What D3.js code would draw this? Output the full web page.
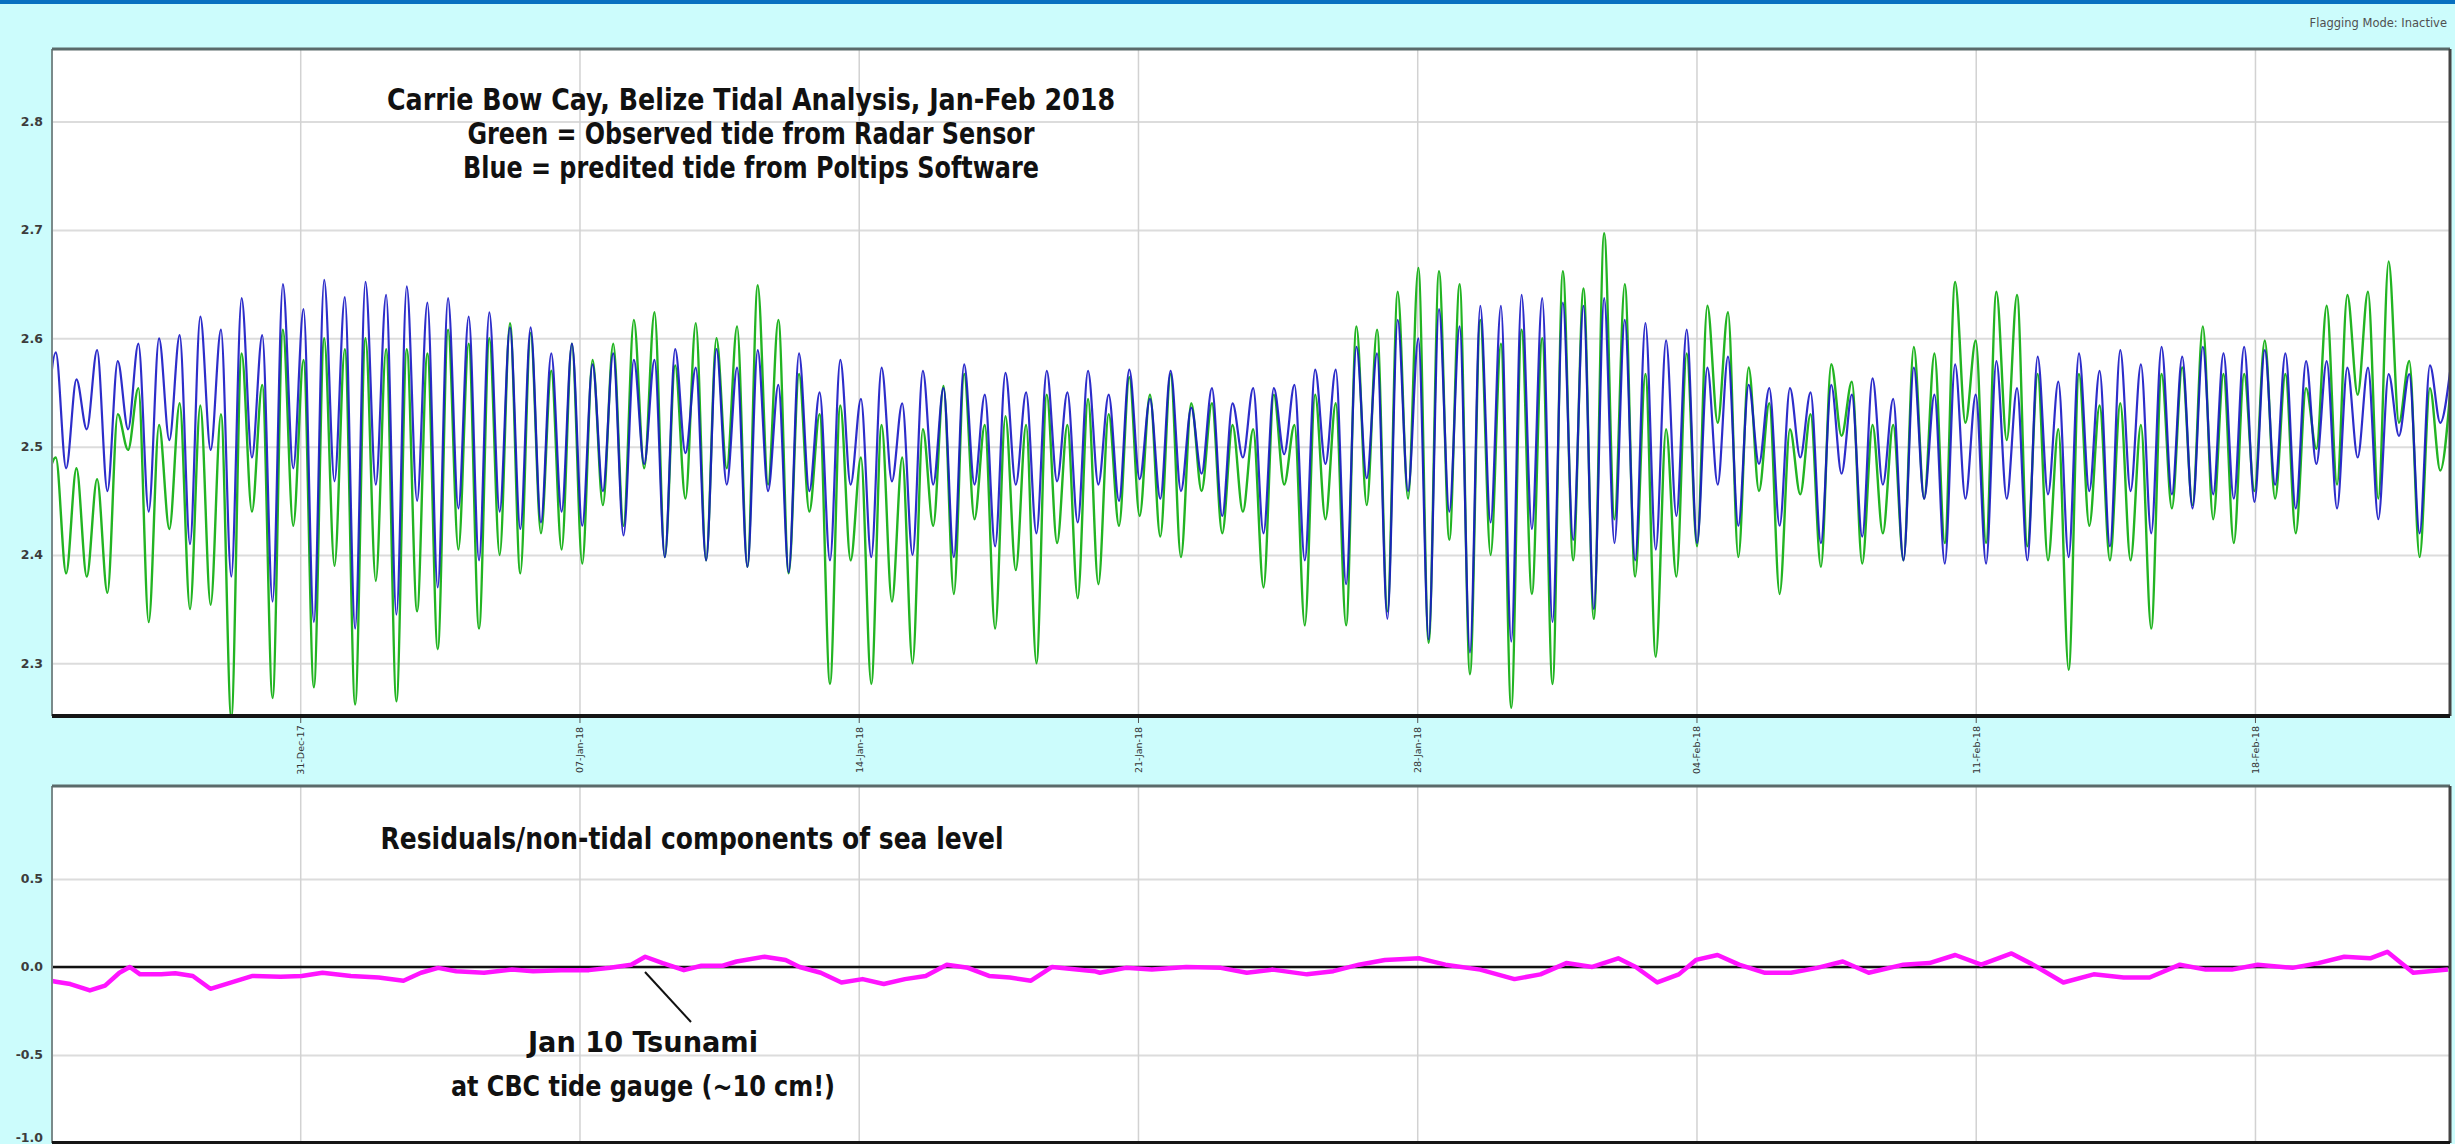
<!DOCTYPE html>
<html>
<head>
<meta charset="utf-8">
<script src="https://cdn.jsdelivr.net/npm/d3@7"></script>
<style>
  body { margin: 0; background: #ccfcfc; }
  svg { display: block; }
</style>
</head>
<body>
<div id="tide-graph"></div>
<script>
// ---------------------------------------------------------------------------------------
// Data

// tide extremes (high, low, high, low ...) every 6.21 h, starting with a low
const firstExtreme = new Date(2017, 11, 24, 14, 45);
const extremeStepHours = 6.21;

// Blue = predicted tide (Poltips)
const predicted = [
  2.50,
  2.587, 2.48, 2.562, 2.516, 2.589, 2.459, 2.579, 2.516,
  2.595, 2.44, 2.60, 2.506, 2.603, 2.41, 2.62, 2.497,
  2.608, 2.38, 2.637, 2.49, 2.603, 2.357, 2.65, 2.48,
  2.627, 2.338, 2.654, 2.468, 2.638, 2.332, 2.652, 2.465,
  2.64, 2.345, 2.648, 2.45, 2.633, 2.37, 2.637, 2.443,
  2.62, 2.395, 2.624, 2.44, 2.61, 2.424, 2.61, 2.43,
  2.586, 2.44, 2.595, 2.427, 2.576, 2.459, 2.586, 2.418,
  2.58, 2.484, 2.58, 2.398, 2.59, 2.494, 2.573, 2.395,
  2.59, 2.465, 2.573, 2.389, 2.589, 2.459, 2.557, 2.384,
  2.586, 2.459, 2.55, 2.395, 2.58, 2.465, 2.544, 2.398,
  2.573, 2.468, 2.54, 2.40, 2.57, 2.465, 2.554, 2.398,
  2.576, 2.465, 2.548, 2.408, 2.568, 2.465, 2.55, 2.42,
  2.57, 2.468, 2.55, 2.43, 2.57, 2.465, 2.548, 2.45,
  2.571, 2.47, 2.544, 2.452, 2.57, 2.459, 2.536, 2.475,
  2.554, 2.436, 2.54, 2.49, 2.554, 2.42, 2.554, 2.493,
  2.557, 2.395, 2.571, 2.484, 2.571, 2.373, 2.592, 2.471,
  2.586, 2.341, 2.617, 2.459, 2.60, 2.322, 2.627, 2.44,
  2.611, 2.31, 2.63, 2.43, 2.63, 2.32, 2.64, 2.424,
  2.637, 2.338, 2.633, 2.414, 2.63, 2.35, 2.637, 2.411,
  2.617, 2.395, 2.614, 2.405, 2.598, 2.436, 2.608, 2.411,
  2.573, 2.465, 2.583, 2.427, 2.557, 2.484, 2.554, 2.427,
  2.554, 2.49, 2.55, 2.411, 2.557, 2.475, 2.548, 2.417,
  2.563, 2.465, 2.544, 2.395, 2.573, 2.452, 2.548, 2.392,
  2.576, 2.452, 2.548, 2.392, 2.579, 2.452, 2.554, 2.395,
  2.583, 2.456, 2.56, 2.398, 2.586, 2.459, 2.57, 2.408,
  2.589, 2.459, 2.576, 2.42, 2.592, 2.456, 2.583, 2.443,
  2.592, 2.456, 2.586, 2.452, 2.592, 2.449, 2.589, 2.465,
  2.586, 2.443, 2.579, 2.484, 2.579, 2.443, 2.573, 2.49,
  2.573, 2.433, 2.567, 2.51, 2.567, 2.42, 2.575, 2.522,
  2.573
];

// Green = observed tide (radar sensor)
const observed = [
  2.46,
  2.49, 2.383, 2.48, 2.38, 2.47, 2.365, 2.53, 2.497,
  2.554, 2.338, 2.52, 2.424, 2.54, 2.35, 2.538, 2.354,
  2.53, 2.25, 2.586, 2.44, 2.557, 2.268, 2.608, 2.427,
  2.58, 2.278, 2.60, 2.39, 2.59, 2.262, 2.60, 2.376,
  2.59, 2.265, 2.59, 2.348, 2.586, 2.313, 2.608, 2.405,
  2.595, 2.332, 2.60, 2.40, 2.614, 2.383, 2.605, 2.42,
  2.57, 2.405, 2.595, 2.392, 2.58, 2.446, 2.595, 2.427,
  2.617, 2.48, 2.624, 2.398, 2.575, 2.452, 2.614, 2.395,
  2.60, 2.48, 2.611, 2.389, 2.649, 2.465, 2.617, 2.383,
  2.567, 2.44, 2.53, 2.281, 2.538, 2.395, 2.49, 2.281,
  2.52, 2.357, 2.49, 2.30, 2.516, 2.427, 2.556, 2.364,
  2.567, 2.433, 2.52, 2.332, 2.528, 2.386, 2.52, 2.30,
  2.548, 2.411, 2.52, 2.36, 2.544, 2.373, 2.53, 2.427,
  2.564, 2.436, 2.548, 2.417, 2.567, 2.398, 2.54, 2.459,
  2.54, 2.42, 2.52, 2.44, 2.516, 2.37, 2.548, 2.465,
  2.52, 2.335, 2.548, 2.433, 2.54, 2.335, 2.611, 2.446,
  2.608, 2.348, 2.643, 2.452, 2.665, 2.319, 2.662, 2.414,
  2.65, 2.29, 2.617, 2.40, 2.595, 2.259, 2.608, 2.364,
  2.60, 2.281, 2.662, 2.395, 2.646, 2.341, 2.697, 2.433,
  2.65, 2.38, 2.567, 2.306, 2.516, 2.38, 2.586, 2.408,
  2.63, 2.522, 2.624, 2.398, 2.573, 2.459, 2.54, 2.364,
  2.516, 2.456, 2.53, 2.389, 2.576, 2.51, 2.56, 2.392,
  2.52, 2.42, 2.52, 2.395, 2.592, 2.452, 2.586, 2.411,
  2.652, 2.522, 2.598, 2.411, 2.643, 2.506, 2.64, 2.408,
  2.567, 2.395, 2.516, 2.294, 2.567, 2.427, 2.538, 2.395,
  2.54, 2.395, 2.52, 2.332, 2.567, 2.443, 2.573, 2.446,
  2.611, 2.433, 2.567, 2.411, 2.567, 2.459, 2.598, 2.452,
  2.567, 2.42, 2.554, 2.498, 2.63, 2.465, 2.64, 2.548,
  2.643, 2.452, 2.671, 2.522, 2.579, 2.398, 2.554, 2.478,
  2.554
];

// Residuals (observed - predicted), days after the start of the plot
const residualDay = [
  0, 0.10, 0.46, 0.95, 1.33, 1.69, 1.95, 2.21, 2.74, 3.09, 3.53, 3.97, 4.50, 5.03,
  5.73, 6.26, 6.78, 7.49, 8.19, 8.81, 9.25, 9.68, 10.13, 10.83, 11.53, 12.06, 12.76,
  13.46, 13.99, 14.52, 14.87, 15.31, 15.84, 16.28, 16.81, 17.16, 17.86, 18.39, 18.74,
  19.27, 19.79, 20.32, 20.85, 21.38, 21.90, 22.43, 22.96, 23.49, 24.01, 24.54, 25.07,
  26.13, 26.27, 26.92, 27.57, 28.43, 29.30, 29.95, 30.60, 31.46, 32.12, 32.76, 33.41,
  34.28, 34.93, 35.80, 36.66, 37.31, 37.96, 38.61, 39.26, 39.70, 40.24, 40.78, 41.21,
  41.75, 42.29, 42.94, 43.59, 44.25, 44.89, 45.54, 46.41, 47.06, 47.71, 48.36, 49.12,
  49.66, 50.42, 51.18, 51.93, 52.58, 53.34, 53.99, 54.64, 55.29, 56.16, 56.81, 57.46,
  58.11, 58.54, 59.19, 60.06
];
const residualValue = [
  -0.08, -0.084, -0.097, -0.133, -0.106, -0.033, 0.0, -0.042, -0.042, -0.036, -0.051, -0.124, -0.088, -0.051,
  -0.055, -0.051, -0.033, -0.051, -0.06, -0.078, -0.033, -0.005, -0.024, -0.033, -0.015, -0.024, -0.018,
  -0.018, -0.005, 0.013, 0.058, 0.022, -0.018, 0.007, 0.007, 0.031, 0.058, 0.04, 0.0,
  -0.033, -0.088, -0.069, -0.097, -0.069, -0.051, 0.013, -0.005, -0.051, -0.06, -0.078, 0.0,
  -0.024, -0.033, -0.005, -0.015, 0.0, -0.005, -0.033, -0.015, -0.042, -0.024, 0.013, 0.04,
  0.049, 0.013, -0.015, -0.069, -0.042, 0.022, 0.0, 0.049, 0.0, -0.088, -0.042, 0.04,
  0.068, 0.013, -0.033, -0.033, -0.005, 0.031, -0.033, 0.013, 0.022, 0.068, 0.013, 0.077,
  0.013, -0.088, -0.042, -0.06, -0.06, 0.013, -0.015, -0.015, 0.013, -0.005, 0.022, 0.058,
  0.049, 0.086, -0.033, -0.015
];

// weekly date ticks and y tick values
const dateTicks = ["2017-12-31", "2018-01-07", "2018-01-14", "2018-01-21",
                   "2018-01-28", "2018-02-04", "2018-02-11", "2018-02-18"];
const tideTicks = [2.3, 2.4, 2.5, 2.6, 2.7, 2.8];
const residualTicks = [-1.0, -0.5, 0.0, 0.5];

const titleLines = [
  "Carrie Bow Cay, Belize Tidal Analysis, Jan-Feb 2018",
  "Green = Observed tide from Radar Sensor",
  "Blue = predited tide from Poltips Software"
];
const titleWidths = [728, 567, 576];

//---------------------------------------------------------------------------------------

// Canvas

const width = 2455;
const height = 1144;
const plotLeft = 52;
const plotRight = 2450;
const top1 = 49, bottom1 = 716;   // tide panel
const top2 = 786, bottom2 = 1143; // residual panel

const boldFont = `"Liberation Sans Narrow", "DejaVu Sans Condensed", "Roboto Condensed", sans-serif`;

const svg = d3.select("#tide-graph")
  .append("svg")
  .attr("width", width)
  .attr("height", height)
  .attr("viewBox", [0, 0, width, height]);

svg.append("rect")
  .attr("width", width).attr("height", height)
  .attr("fill", "#ccfcfc");

// dark blue strip at the top of the window
svg.append("rect")
  .attr("width", width).attr("height", 4)
  .attr("fill", "#0870c0");

svg.append("text")
  .attr("x", 2447).attr("y", 27)
  .attr("text-anchor", "end")
  .attr("font-family", "DejaVu Sans, sans-serif")
  .attr("font-size", "11.5px")
  .attr("fill", "#505050")
  .text("Flagging Mode: Inactive");

//---------------------------------------------------------------------------------------

// Scales

const plotStart = new Date(2017, 11, 24, 18, 40);
const plotEnd = new Date(2018, 1, 22, 21, 20);

const scaleX = d3.scaleTime()
  .domain([plotStart, plotEnd])
  .range([plotLeft, plotRight]);

const scaleTide = d3.scaleLinear()
  .domain([2.2514, 2.867])
  .range([bottom1, top1]);

const scaleRes = d3.scaleLinear()
  .domain([-1.0, 1.028])
  .range([bottom2, top2]);

const tickDates = dateTicks.map(d => d3.timeParse("%Y-%m-%d")(d));

const tideData = (arr) => arr.map((v, i) => ({
  date: new Date(firstExtreme.getTime() + i * extremeStepHours * 3600e3),
  value: v
}));

const residualData = residualDay.map((d, i) => ({
  date: new Date(plotStart.getTime() + d * 864e5),
  value: residualValue[i]
}));

//---------------------------------------------------------------------------------------

// Panels (white background, grid, clip)

function panel(top, bottom, scaleY, ticks, id) {
  svg.append("clipPath").attr("id", id)
    .append("rect")
    .attr("x", plotLeft).attr("y", top)
    .attr("width", plotRight - plotLeft).attr("height", bottom - top);

  svg.append("rect")
    .attr("x", plotLeft).attr("y", top)
    .attr("width", plotRight - plotLeft).attr("height", bottom - top)
    .attr("fill", "#ffffff");

  // horizontal grid
  svg.append("g")
    .attr("transform", `translate(${plotLeft},0)`)
    .call(d3.axisLeft(scaleY).tickValues(ticks).tickSize(-(plotRight - plotLeft)).tickFormat(""))
    .call(g => g.select(".domain").remove())
    .selectAll("line")
    .attr("stroke", "#dcdcdc")
    .attr("stroke-width", 2);

  // vertical grid
  svg.append("g")
    .attr("transform", `translate(0,${bottom})`)
    .call(d3.axisBottom(scaleX).tickValues(tickDates).tickSize(-(bottom - top)).tickFormat(""))
    .call(g => g.select(".domain").remove())
    .selectAll("line")
    .attr("stroke", "#d2d2d2")
    .attr("stroke-width", 1.5);

  // y labels
  svg.append("g")
    .attr("transform", `translate(${plotLeft - 6},0)`)
    .call(d3.axisLeft(scaleY).tickValues(ticks).tickSize(0).tickFormat(d => d.toFixed(1)))
    .call(g => g.select(".domain").remove())
    .selectAll("text")
    .attr("dy", d => d === -1 ? "-0.15em" : "0.32em")
    .attr("font-family", "DejaVu Sans, sans-serif")
    .attr("font-weight", "bold")
    .attr("font-size", "12.5px")
    .attr("fill", "#3c3c3c");
}

panel(top1, bottom1, scaleTide, tideTicks, "clip-tide");
panel(top2, bottom2, scaleRes, residualTicks, "clip-res");

//---------------------------------------------------------------------------------------

// Tide lines

const tideLine = d3.line()
  .x(d => scaleX(d.date))
  .y(d => scaleTide(d.value))
  .curve(d3.curveMonotoneX);

const tideG = svg.append("g").attr("clip-path", "url(#clip-tide)");

tideG.append("path")
  .datum(tideData(observed))
  .attr("d", tideLine)
  .attr("fill", "none")
  .attr("stroke", "#22b422")
  .attr("stroke-width", 2.4);

tideG.append("path")
  .datum(tideData(predicted))
  .attr("d", tideLine)
  .attr("fill", "none")
  .attr("stroke", "#1616c4")
  .attr("stroke-width", 2.2)
  .attr("opacity", 0.9);

// Residual line

const resG = svg.append("g").attr("clip-path", "url(#clip-res)");

resG.append("line")
  .attr("x1", plotLeft).attr("x2", plotRight)
  .attr("y1", scaleRes(0)).attr("y2", scaleRes(0))
  .attr("stroke", "#111")
  .attr("stroke-width", 2.5);

resG.append("path")
  .datum(residualData)
  .attr("d", d3.line().x(d => scaleX(d.date)).y(d => scaleRes(d.value)))
  .attr("fill", "none")
  .attr("stroke", "#ff14ff")
  .attr("stroke-width", 4.5)
  .attr("stroke-linejoin", "round");

//---------------------------------------------------------------------------------------

// Frames

function frame(top, bottom) {
  svg.append("line") // left
    .attr("x1", plotLeft).attr("x2", plotLeft).attr("y1", top).attr("y2", bottom)
    .attr("stroke", "#7a8a8a").attr("stroke-width", 2);
  svg.append("line") // top
    .attr("x1", plotLeft).attr("x2", plotRight).attr("y1", top).attr("y2", top)
    .attr("stroke", "#5a6a6a").attr("stroke-width", 3);
  svg.append("line") // right
    .attr("x1", plotRight).attr("x2", plotRight).attr("y1", top).attr("y2", bottom)
    .attr("stroke", "#444").attr("stroke-width", 3);
  svg.append("line") // bottom
    .attr("x1", plotLeft).attr("x2", plotRight).attr("y1", bottom).attr("y2", bottom)
    .attr("stroke", "#151515").attr("stroke-width", 4);
}

frame(top1, bottom1);
frame(top2, bottom2);

// date axis (rotated labels between the panels)
svg.append("g")
  .attr("transform", `translate(0,${bottom1 + 2})`)
  .call(d3.axisBottom(scaleX).tickValues(tickDates).tickSize(5).tickFormat(d3.timeFormat("%d-%b-%y")))
  .call(g => g.select(".domain").remove())
  .call(g => g.selectAll("line").attr("stroke", "#555"))
  .selectAll("text")
  .attr("transform", "rotate(-90)")
  .attr("x", -32)
  .attr("y", 0)
  .attr("dy", "0.35em")
  .attr("text-anchor", "middle")
  .attr("font-family", "DejaVu Sans, sans-serif")
  .attr("font-size", "9.5px")
  .attr("fill", "#333");

//---------------------------------------------------------------------------------------

// Texts

svg.append("g")
  .selectAll("text")
  .data(titleLines)
  .join("text")
  .attr("x", 751)
  .attr("y", (d, i) => 110 + i * 34)
  .attr("text-anchor", "middle")
  .attr("textLength", (d, i) => titleWidths[i])
  .attr("lengthAdjust", "spacingAndGlyphs")
  .attr("font-family", boldFont)
  .attr("font-weight", "bold")
  .attr("font-size", "30px")
  .attr("fill", "#111")
  .text(d => d);

svg.append("text")
  .attr("x", 692).attr("y", 849)
  .attr("text-anchor", "middle")
  .attr("textLength", 623)
  .attr("lengthAdjust", "spacingAndGlyphs")
  .attr("font-family", boldFont)
  .attr("font-weight", "bold")
  .attr("font-size", "30px")
  .attr("fill", "#111")
  .text("Residuals/non-tidal components of sea level");

// tsunami annotation
svg.append("line")
  .attr("x1", 645).attr("y1", 972)
  .attr("x2", 691).attr("y2", 1022)
  .attr("stroke", "#111")
  .attr("stroke-width", 2);

svg.append("g")
  .selectAll("text")
  .data(["Jan 10 Tsunami", "at CBC tide gauge (~10 cm!)"])
  .join("text")
  .attr("x", 643)
  .attr("y", (d, i) => 1052 + i * 44)
  .attr("text-anchor", "middle")
  .attr("textLength", (d, i) => [230, 384][i])
  .attr("lengthAdjust", "spacingAndGlyphs")
  .attr("font-family", boldFont)
  .attr("font-weight", "bold")
  .attr("font-size", "29px")
  .attr("fill", "#111")
  .text(d => d);
</script>
</body>
</html>
